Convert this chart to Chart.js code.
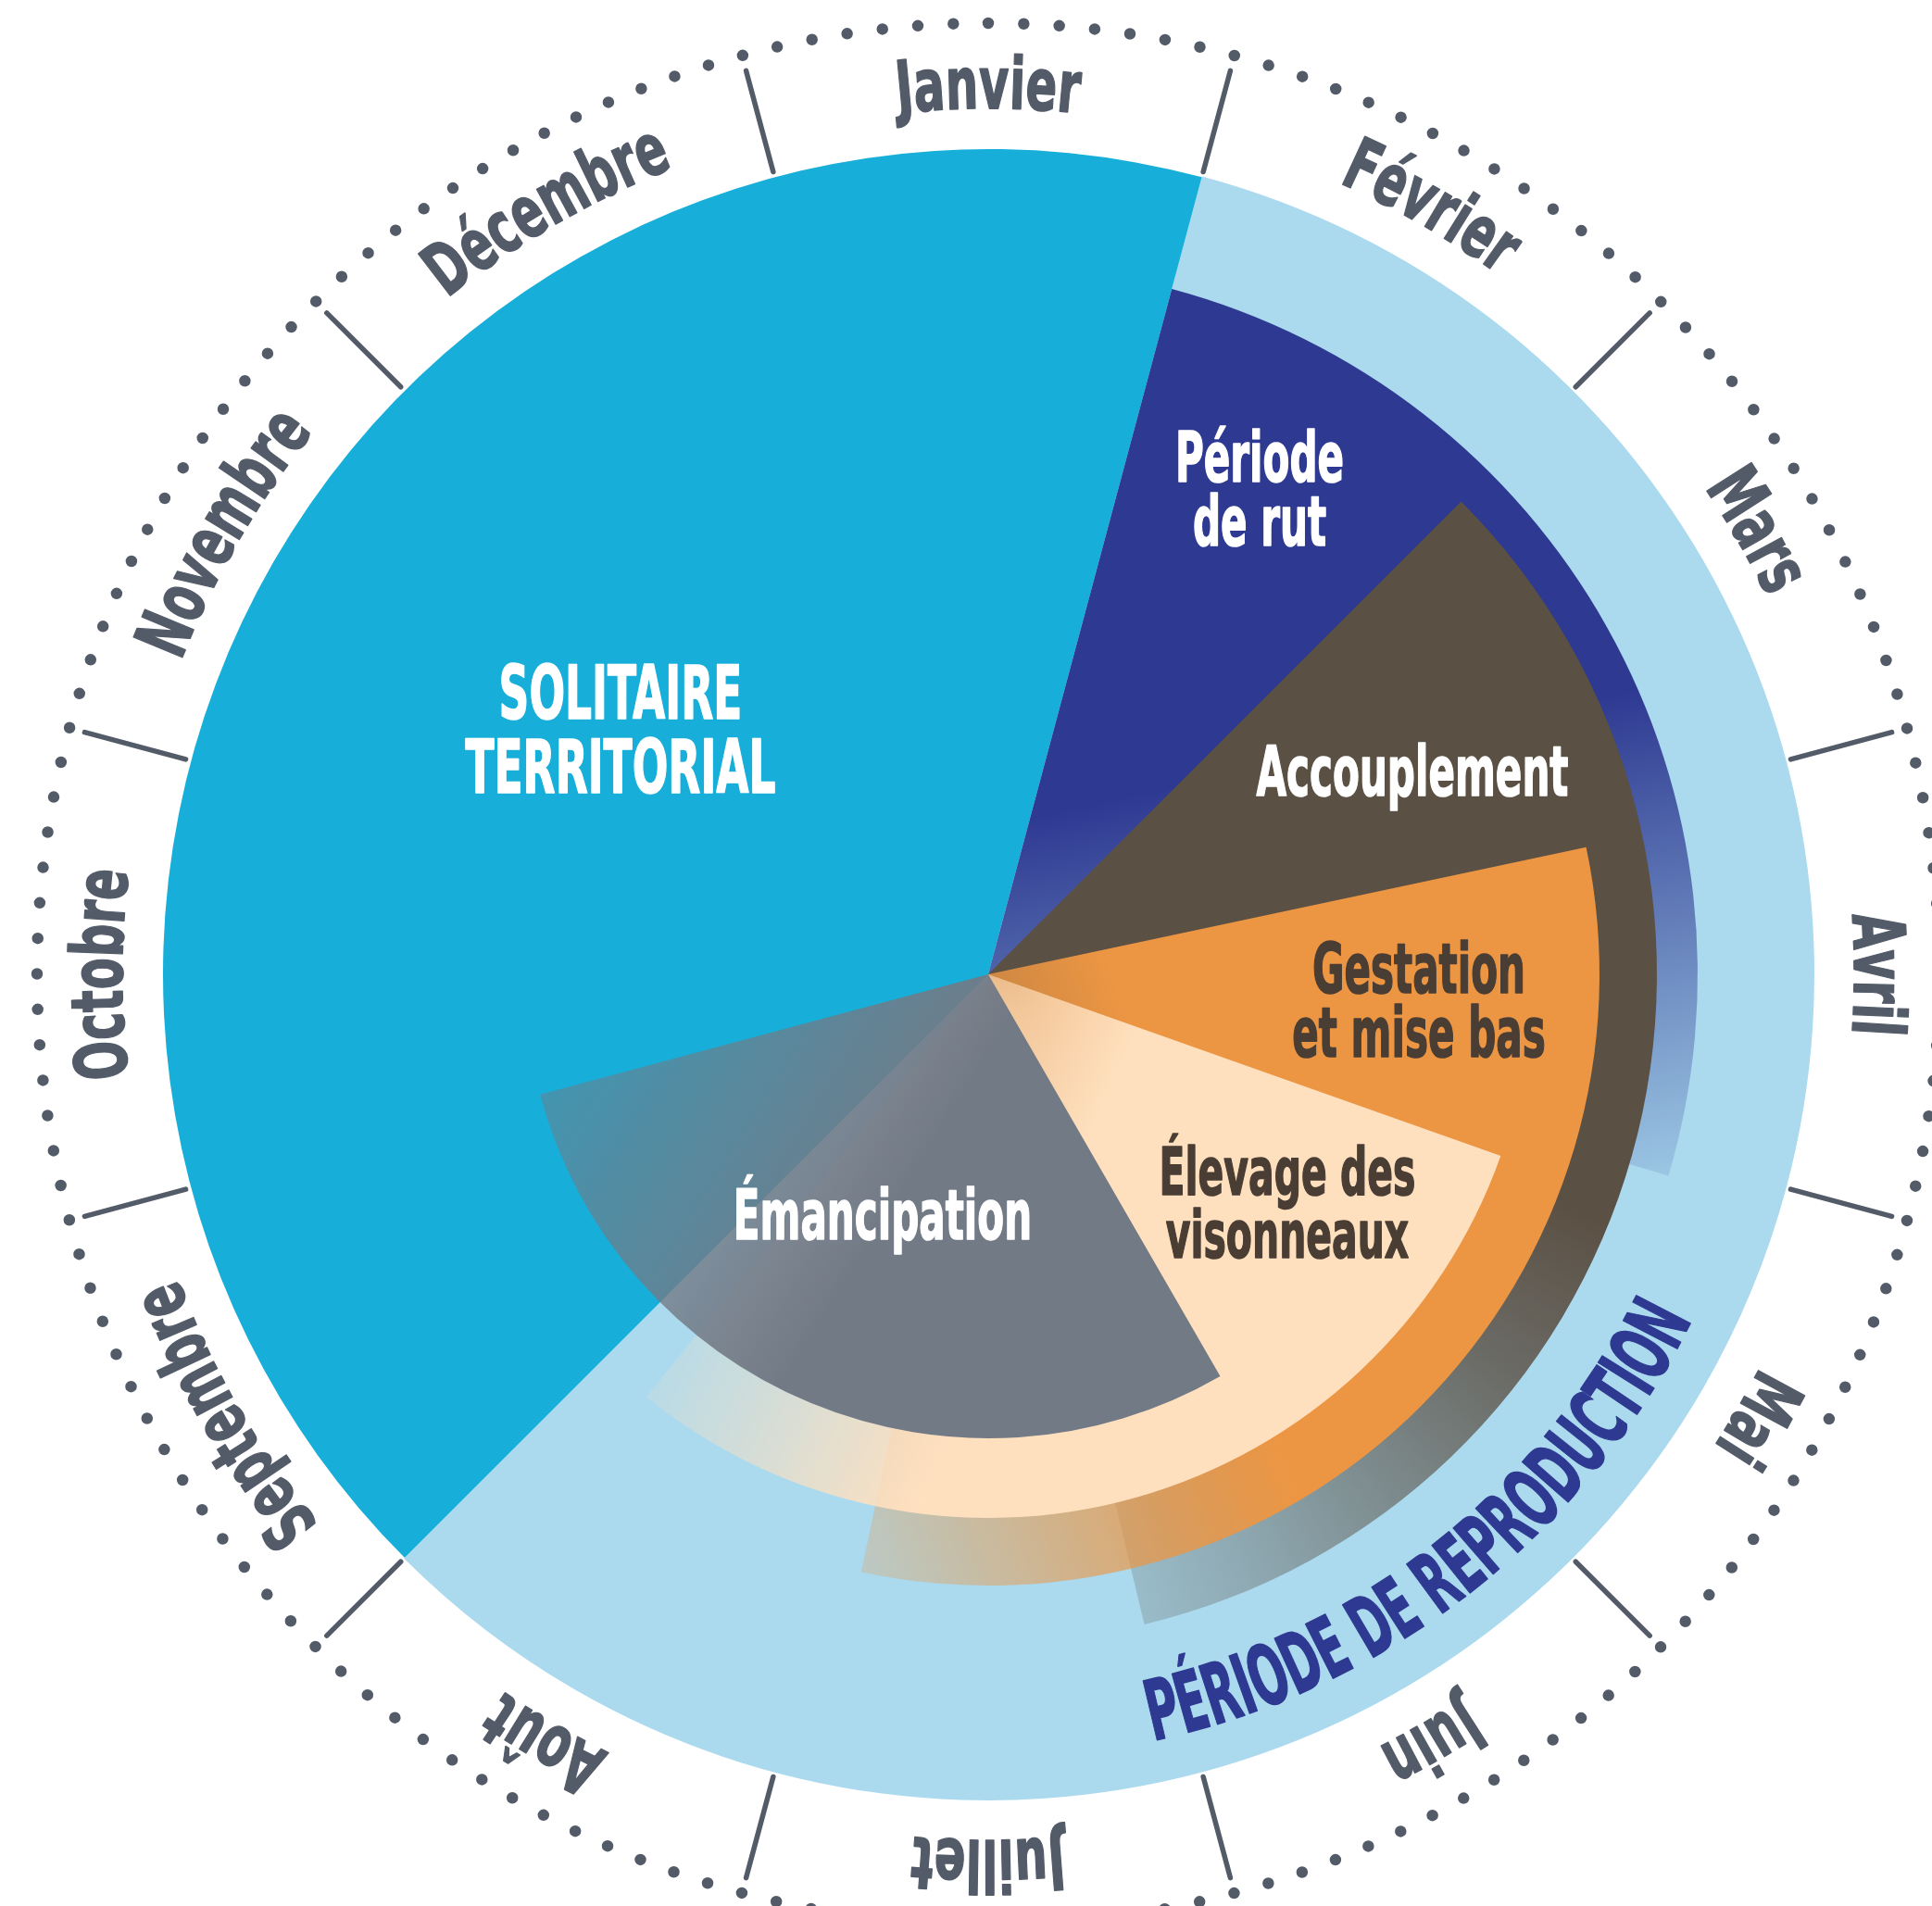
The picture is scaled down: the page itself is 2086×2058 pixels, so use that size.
<!DOCTYPE html>
<html>
<head>
<meta charset="utf-8">
<title>Cycle annuel du vison</title>
<script src="https://cdn.jsdelivr.net/npm/chart.js@4.4.1/dist/chart.umd.min.js"></script>
<style>
  html, body { margin: 0; padding: 0; background: #fff; overflow: hidden; }
  #wheel { position: relative; width: 2086px; height: 2058px; }
  #wheel canvas { position: absolute; left: 0; top: 0; }
</style>
</head>
<body>
<div id="wheel"></div>
<script>
// --- data ---
const months = ['Janvier', 'Février', 'Mars', 'Avril', 'Mai', 'Juin', 'Juillet', 'Août', 'Septembre', 'Octobre', 'Novembre', 'Décembre'];

// phases in drawing order (bottom first), start / end counted in months from 1 January
const phaseNames = ['PÉRIODE DE REPRODUCTION', 'SOLITAIRE\nTERRITORIAL', 'Période\nde rut', 'Accouplement', 'Gestation\net mise bas', 'Élevage des\nvisonneaux', 'Émancipation'];
const phaseStart = [1, 8, 1, 2, 3.1, 4.15, 5.5];
const phaseEnd = [8, 13, 4.05, 6.05, 6.9, 7.8, 9];

// --- layout & styles ---
const W = 2086, H = 2058;
const CX = 1067, CY = 1052;
const INK = '#535b69';
const FONT = '"Liberation Sans Narrow", "DejaVu Sans Condensed", "Liberation Sans", sans-serif';
const DEG_PER_MONTH = 360 / months.length;

const phaseStyles = [
  { radius: 892, color: '#abdaef' },
  { radius: 891, color: '#17afd9' },
  { radius: 766, color: '#2e3991', fade: { type: 'linear', from: [682, -303], to: [788, 201], a0: 1, a1: 0.13 } },
  { radius: 722, color: '#5b5044', fade: { type: 'conic', stops: [[112, 1], [128, 0.8], [142, 0.58], [156, 0.36], [168, 0.2]] } },
  { radius: 660, color: '#ec9643', fade: { type: 'linear', from: [-470, 168], to: [118, -42], a0: 0, a1: 1 } },
  { radius: 587, color: '#fee0bf', fade: { type: 'linear', from: [-193, -88], to: [158, 72], a0: 0, a1: 1 } },
  { radius: 501, color: '#727a86', fade: { type: 'linear', from: [-601, -375], to: [38, 24], a0: 0, a1: 1 } }
];

const labelStyles = [
  { arcAt: 142, r: 814, size: 90, color: '#2e3991', squeeze: 0.93 },
  { dx: -397, dy: -265, size: 80, lh: 80, color: '#ffffff' },
  { dx: 293, dy: -524, size: 74, lh: 69, color: '#ffffff' },
  { dx: 458, dy: -220, size: 74, lh: 69, color: '#ffffff' },
  { dx: 465, dy: 28, size: 74, lh: 69, color: '#493d34' },
  { dx: 323, dy: 246, size: 72, lh: 68, color: '#493d34' },
  { dx: -114, dy: 259, size: 74, lh: 69, color: '#ffffff' }
];

const ring = { tickIn: 897, tickOut: 1010, tickWidth: 5.5, labelR: 963, labelSize: 78, dotR: 1027, dots: 168, dotSize: 12.5 };

const layout = { padding: { left: CX - 1000, right: W - CX - 1000, top: CY - 1000, bottom: Math.max(H - CY - 1000, 0) } };

function withAlpha(hex, a) {
  const n = parseInt(hex.slice(1), 16);
  return `rgba(${n >> 16}, ${(n >> 8) & 255}, ${n & 255}, ${a})`;
}

// pie slices [gap, phase, rest]; phases running past December start the pie at their first month
function slices(start, end) {
  const base = end > 12 ? Math.floor(start) : 0;
  return { base, data: [start - base, end - start, 12 - (end - base)] };
}

function phaseFill(chart, st) {
  const { ctx, chartArea } = chart;
  const f = st.fade;
  if (!chartArea || !f) return st.color;
  const cx = (chartArea.left + chartArea.right) / 2;
  const cy = (chartArea.top + chartArea.bottom) / 2;
  let g;
  if (f.type === 'linear') {
    g = ctx.createLinearGradient(cx + f.from[0], cy + f.from[1], cx + f.to[0], cy + f.to[1]);
    g.addColorStop(0, withAlpha(st.color, f.a0));
    g.addColorStop(1, withAlpha(st.color, f.a1));
  } else {
    if (!ctx.createConicGradient) return st.color;
    g = ctx.createConicGradient(-Math.PI / 2, cx, cy);
    f.stops.forEach(([deg, a]) => g.addColorStop(deg / 360, withAlpha(st.color, a)));
  }
  return g;
}

function setFont(ctx, size) {
  ctx.font = `bold ${size}px ${FONT}`;
}

function paintText(ctx, text) {
  ctx.fillText(text, 0, 0);
  ctx.strokeText(text, 0, 0);
}

// text on a circle; r = radius of the cap centre, mid = canvas angle of the word centre
function arcText(ctx, text, cx, cy, r, mid, size, sx, outward) {
  setFont(ctx, size);
  const cap = size * 0.72;
  const rb = outward ? r - cap / 2 : r + cap / 2;
  const chars = [...text];
  const widths = chars.map(ch => ctx.measureText(ch).width * sx);
  const total = widths.reduce((a, b) => a + b, 0);
  let pos = -total / 2;
  chars.forEach((ch, k) => {
    const m = pos + widths[k] / 2;
    pos += widths[k];
    const a = outward ? mid + m / rb : mid - m / rb;
    ctx.save();
    ctx.translate(cx + rb * Math.cos(a), cy + rb * Math.sin(a));
    ctx.rotate(outward ? a + Math.PI / 2 : a - Math.PI / 2);
    ctx.scale(sx, 1);
    paintText(ctx, ch);
    ctx.restore();
  });
}

function blockText(ctx, lines, x, y, size, lh, sx) {
  setFont(ctx, size);
  const cap = size * 0.72;
  lines.forEach((line, k) => {
    const yy = y + (k - (lines.length - 1) / 2) * lh + cap / 2;
    ctx.save();
    ctx.translate(x, yy);
    ctx.scale(sx, 1);
    paintText(ctx, line);
    ctx.restore();
  });
}

const wheelDecor = {
  id: 'wheelDecor',
  afterDatasetsDraw(chart) {
    const { ctx } = chart;
    const arcs = chart.getDatasetMeta(0).data;
    const cx = arcs[0].x, cy = arcs[0].y;

    setFont(ctx, 74);
    const condense = 337 / ctx.measureText('Accouplement').width;

    ctx.save();
    // dotted outer circle
    ctx.strokeStyle = INK;
    ctx.lineCap = 'round';
    ctx.lineWidth = ring.dotSize;
    ctx.setLineDash([0, 2 * Math.PI * ring.dotR / ring.dots]);
    ctx.beginPath();
    ctx.arc(cx, cy, ring.dotR, -Math.PI / 2, 1.5 * Math.PI);
    ctx.stroke();
    ctx.setLineDash([]);

    // month ticks and names
    ctx.lineWidth = ring.tickWidth;
    arcs.forEach(arc => {
      const a = arc.startAngle;
      ctx.beginPath();
      ctx.moveTo(cx + ring.tickIn * Math.cos(a), cy + ring.tickIn * Math.sin(a));
      ctx.lineTo(cx + ring.tickOut * Math.cos(a), cy + ring.tickOut * Math.sin(a));
      ctx.stroke();
    });

    ctx.textAlign = 'center';
    ctx.textBaseline = 'alphabetic';
    ctx.lineJoin = 'round';
    ctx.lineWidth = 1.6;
    ctx.fillStyle = INK;
    arcs.forEach((arc, i) => {
      arcText(ctx, months[i], cx, cy, ring.labelR, (arc.startAngle + arc.endAngle) / 2, ring.labelSize, condense * 1.12, true);
    });

    // phase names
    phaseNames.forEach((name, i) => {
      const ls = labelStyles[i];
      ctx.fillStyle = ls.color;
      ctx.strokeStyle = ls.color;
      if (ls.arcAt !== undefined) {
        arcText(ctx, name, cx, cy, ls.r, (ls.arcAt - 90) * Math.PI / 180, ls.size, condense * ls.squeeze, false);
      } else {
        blockText(ctx, name.split('\n'), cx + ls.dx, cy + ls.dy, ls.size, ls.lh, condense);
      }
    });
    ctx.restore();
  }
};

const wheel = document.getElementById('wheel');
function addCanvas() {
  const c = document.createElement('canvas');
  c.width = W;
  c.height = H;
  wheel.appendChild(c);
  return c;
}

const baseOptions = {
  responsive: false,
  animation: false,
  devicePixelRatio: 1,
  rotation: -DEG_PER_MONTH / 2,
  layout: layout,
  events: [],
  plugins: { legend: { display: false }, tooltip: { enabled: false } }
};

// one pie per phase, stacked
phaseNames.forEach((name, i) => {
  const st = phaseStyles[i];
  const sl = slices(phaseStart[i], phaseEnd[i]);
  new Chart(addCanvas(), {
    type: 'pie',
    data: {
      labels: ['', name.replace('\n', ' '), ''],
      datasets: [{
        data: sl.data,
        backgroundColor: c => c.dataIndex === 1 ? phaseFill(c.chart, st) : 'rgba(0,0,0,0)',
        borderWidth: 0,
        hoverOffset: 0
      }]
    },
    options: Object.assign({}, baseOptions, {
      radius: st.radius,
      rotation: -DEG_PER_MONTH / 2 + DEG_PER_MONTH * sl.base
    })
  });
});

// calendar ring on top: twelve equal months
new Chart(addCanvas(), {
  type: 'doughnut',
  data: {
    labels: months,
    datasets: [{
      data: months.map(() => 1),
      backgroundColor: 'rgba(0,0,0,0)',
      borderWidth: 0,
      hoverOffset: 0
    }]
  },
  options: Object.assign({}, baseOptions, { radius: 1000, cutout: '89.7%' }),
  plugins: [wheelDecor]
});
</script>
</body>
</html>
